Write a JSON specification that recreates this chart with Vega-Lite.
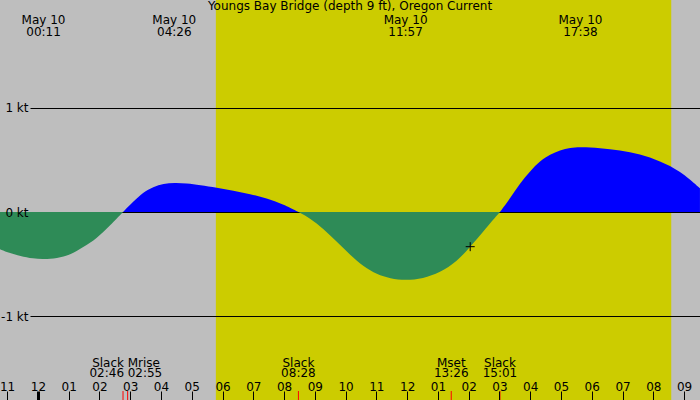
{
  "$schema": "https://vega.github.io/schema/vega-lite/v6.json",
  "width": 700,
  "height": 400,
  "autosize": "none",
  "padding": 0,
  "background": "#bebebe",
  "title": {"text": "Youngs Bay Bridge (depth 9 ft), Oregon Current", "anchor": "middle", "frame": "group", "orient": "top", "offset": -22, "baseline": "alphabetic", "fontSize": 12, "fontWeight": "normal", "color": "black", "font": "DejaVu Sans"},
  "config": {"view": {"stroke": null}, "font": "DejaVu Sans"},
  "datasets": {
    "daylight": [{"sunrise": 5.7833, "sunset": 20.5833}],
    "levels": [{"kt": 0}],
    "current": [
      {"h": -1.233, "v": -0.357, "seg": 1, "dir": "Ebb"},
      {"h": -0.9, "v": -0.395, "seg": 1, "dir": "Ebb"},
      {"h": -0.5833, "v": -0.421, "seg": 1, "dir": "Ebb"},
      {"h": -0.15, "v": -0.447, "seg": 1, "dir": "Ebb"},
      {"h": 0.1833, "v": -0.453, "seg": 1, "dir": "Ebb"},
      {"h": 0.6167, "v": -0.443, "seg": 1, "dir": "Ebb"},
      {"h": 1.05, "v": -0.411, "seg": 1, "dir": "Ebb"},
      {"h": 1.4667, "v": -0.338, "seg": 1, "dir": "Ebb"},
      {"h": 1.9167, "v": -0.252, "seg": 1, "dir": "Ebb"},
      {"h": 2.35, "v": -0.127, "seg": 1, "dir": "Ebb"},
      {"h": 2.7667, "v": 0, "seg": 1, "dir": "Ebb"},
      {"h": 2.7667, "v": 0, "seg": 2, "dir": "Flood"},
      {"h": 3.1, "v": 0.099, "seg": 2, "dir": "Flood"},
      {"h": 3.4167, "v": 0.188, "seg": 2, "dir": "Flood"},
      {"h": 3.75, "v": 0.242, "seg": 2, "dir": "Flood"},
      {"h": 4.0833, "v": 0.271, "seg": 2, "dir": "Flood"},
      {"h": 4.4333, "v": 0.28, "seg": 2, "dir": "Flood"},
      {"h": 4.8333, "v": 0.275, "seg": 2, "dir": "Flood"},
      {"h": 5.2667, "v": 0.258, "seg": 2, "dir": "Flood"},
      {"h": 5.8167, "v": 0.233, "seg": 2, "dir": "Flood"},
      {"h": 6.35, "v": 0.204, "seg": 2, "dir": "Flood"},
      {"h": 6.9, "v": 0.172, "seg": 2, "dir": "Flood"},
      {"h": 7.4333, "v": 0.131, "seg": 2, "dir": "Flood"},
      {"h": 7.9667, "v": 0.074, "seg": 2, "dir": "Flood"},
      {"h": 8.4667, "v": 0, "seg": 2, "dir": "Flood"},
      {"h": 8.4667, "v": 0, "seg": 3, "dir": "Ebb"},
      {"h": 8.85, "v": -0.061, "seg": 3, "dir": "Ebb"},
      {"h": 9.2667, "v": -0.157, "seg": 3, "dir": "Ebb"},
      {"h": 9.7167, "v": -0.284, "seg": 3, "dir": "Ebb"},
      {"h": 10.15, "v": -0.411, "seg": 3, "dir": "Ebb"},
      {"h": 10.5833, "v": -0.523, "seg": 3, "dir": "Ebb"},
      {"h": 11.0167, "v": -0.597, "seg": 3, "dir": "Ebb"},
      {"h": 11.45, "v": -0.638, "seg": 3, "dir": "Ebb"},
      {"h": 11.95, "v": -0.654, "seg": 3, "dir": "Ebb"},
      {"h": 12.5167, "v": -0.638, "seg": 3, "dir": "Ebb"},
      {"h": 13.0667, "v": -0.581, "seg": 3, "dir": "Ebb"},
      {"h": 13.6167, "v": -0.476, "seg": 3, "dir": "Ebb"},
      {"h": 14.05, "v": -0.332, "seg": 3, "dir": "Ebb"},
      {"h": 14.4667, "v": -0.188, "seg": 3, "dir": "Ebb"},
      {"h": 15.0167, "v": 0, "seg": 3, "dir": "Ebb"},
      {"h": 15.0167, "v": 0, "seg": 4, "dir": "Flood"},
      {"h": 15.35, "v": 0.131, "seg": 4, "dir": "Flood"},
      {"h": 15.6667, "v": 0.275, "seg": 4, "dir": "Flood"},
      {"h": 16.0, "v": 0.392, "seg": 4, "dir": "Flood"},
      {"h": 16.3167, "v": 0.488, "seg": 4, "dir": "Flood"},
      {"h": 16.65, "v": 0.552, "seg": 4, "dir": "Flood"},
      {"h": 16.9667, "v": 0.593, "seg": 4, "dir": "Flood"},
      {"h": 17.3, "v": 0.615, "seg": 4, "dir": "Flood"},
      {"h": 17.6333, "v": 0.622, "seg": 4, "dir": "Flood"},
      {"h": 18.2667, "v": 0.612, "seg": 4, "dir": "Flood"},
      {"h": 18.9167, "v": 0.593, "seg": 4, "dir": "Flood"},
      {"h": 19.5667, "v": 0.555, "seg": 4, "dir": "Flood"},
      {"h": 20.2167, "v": 0.488, "seg": 4, "dir": "Flood"},
      {"h": 20.8667, "v": 0.395, "seg": 4, "dir": "Flood"},
      {"h": 21.5167, "v": 0.227, "seg": 4, "dir": "Flood"}
    ],
    "events": [
      {"h": 2.7667, "ev": "Slack", "time": "02:46"},
      {"h": 2.9167, "ev": "Mrise", "time": "02:55"},
      {"h": 8.4667, "ev": "Slack", "time": "08:28"},
      {"h": 13.4333, "ev": "Mset", "time": "13:26"},
      {"h": 15.0167, "ev": "Slack", "time": "15:01"}
    ],
    "peaks": [
      {"h": 0.1833, "date": "May 10", "time": "00:11"},
      {"h": 4.4333, "date": "May 10", "time": "04:26"},
      {"h": 11.95, "date": "May 10", "time": "11:57"},
      {"h": 17.6333, "date": "May 10", "time": "17:38"}
    ],
    "now": [{"h": 14.05, "v": -0.332}]
  },
  "layer": [
    {
      "data": {"name": "daylight"},
      "mark": {"type": "rect", "color": "#cccc00"},
      "encoding": {
        "x": {
          "field": "sunrise", "type": "quantitative",
          "scale": {"domain": [-1.2317, 21.518], "nice": false, "zero": false},
          "axis": {
            "title": null, "orient": "bottom",
            "values": [-1, 0, 1, 2, 3, 4, 5, 6, 7, 8, 9, 10, 11, 12, 13, 14, 15, 16, 17, 18, 19, 20, 21],
            "tickCount": 40,
            "labelExpr": "format(((datum.value + 23) % 12) + 1, '02d')",
            "domain": false, "grid": false,
            "tickSize": -9, "tickColor": "black",
            "tickWidth": {"condition": {"test": "datum.value === 0", "value": 3}, "value": 1},
            "labelColor": "black", "labelFontSize": 12, "labelFont": "DejaVu Sans",
            "labelBaseline": "alphabetic", "labelPadding": -1,
            "labelFlush": false, "labelOverlap": false, "zindex": 1
          }
        },
        "x2": {"field": "sunset"}
      }
    },
    {
      "data": {"name": "levels"},
      "mark": {"type": "rule", "color": "black", "strokeWidth": 1, "yOffset": 0.5},
      "encoding": {"y": {"field": "kt", "type": "quantitative"}}
    },
    {
      "data": {"name": "current"},
      "mark": {"type": "area", "interpolate": "basis", "clip": true},
      "encoding": {
        "x": {"field": "h", "type": "quantitative"},
        "y": {
          "field": "v", "type": "quantitative", "stack": null,
          "scale": {"domain": [-1.8, 2.03], "nice": false, "zero": false},
          "axis": {
            "title": null, "orient": "left", "offset": -30, "values": [-1, 0, 1],
            "labelExpr": "datum.value + ' kt'",
            "domain": false, "grid": false, "tickSize": -670,
            "tickColor": {"condition": {"test": "datum.value === 0", "value": "transparent"}, "value": "black"},
            "labelColor": "black", "labelFontSize": 12, "labelFont": "DejaVu Sans",
            "labelPadding": 672, "zindex": 1
          }
        },
        "color": {"field": "dir", "type": "nominal", "scale": {"domain": ["Flood", "Ebb"], "range": ["#0000ff", "#2e8b57"]}, "legend": null},
        "detail": {"field": "seg", "type": "nominal"}
      }
    },
    {
      "data": {"name": "events"},
      "mark": {"type": "rule", "color": "#ff0000", "strokeWidth": 1},
      "encoding": {
        "x": {"field": "h", "type": "quantitative"},
        "y": {"datum": -1.8, "type": "quantitative"},
        "y2": {"datum": -1.714}
      }
    },
    {
      "data": {"name": "events"},
      "transform": [{"filter": "datum.time !== '02:46' && datum.ev !== 'Mrise'"}],
      "mark": {"type": "text", "baseline": "alphabetic", "fontSize": 12, "color": "black", "align": "center"},
      "encoding": {
        "x": {"field": "h", "type": "quantitative"},
        "y": {"datum": -1.481, "type": "quantitative"},
        "text": {"field": "ev", "type": "nominal"}
      }
    },
    {
      "data": {"name": "events"},
      "transform": [{"filter": "datum.time !== '02:46' && datum.ev !== 'Mrise'"}],
      "mark": {"type": "text", "baseline": "alphabetic", "fontSize": 12, "color": "black", "align": "center"},
      "encoding": {
        "x": {"field": "h", "type": "quantitative"},
        "y": {"datum": -1.583, "type": "quantitative"},
        "text": {"field": "time", "type": "nominal"}
      }
    },
    {
      "data": {"name": "events"},
      "transform": [{"filter": "datum.time === '02:46'"}],
      "mark": {"type": "text", "baseline": "alphabetic", "fontSize": 12, "color": "black", "align": "right", "dx": 1},
      "encoding": {
        "x": {"field": "h", "type": "quantitative"},
        "y": {"datum": -1.481, "type": "quantitative"},
        "text": {"field": "ev", "type": "nominal"}
      }
    },
    {
      "data": {"name": "events"},
      "transform": [{"filter": "datum.time === '02:46'"}],
      "mark": {"type": "text", "baseline": "alphabetic", "fontSize": 12, "color": "black", "align": "right", "dx": 1},
      "encoding": {
        "x": {"field": "h", "type": "quantitative"},
        "y": {"datum": -1.583, "type": "quantitative"},
        "text": {"field": "time", "type": "nominal"}
      }
    },
    {
      "data": {"name": "events"},
      "transform": [{"filter": "datum.ev === 'Mrise'"}],
      "mark": {"type": "text", "baseline": "alphabetic", "fontSize": 12, "color": "black", "align": "left"},
      "encoding": {
        "x": {"field": "h", "type": "quantitative"},
        "y": {"datum": -1.481, "type": "quantitative"},
        "text": {"field": "ev", "type": "nominal"}
      }
    },
    {
      "data": {"name": "events"},
      "transform": [{"filter": "datum.ev === 'Mrise'"}],
      "mark": {"type": "text", "baseline": "alphabetic", "fontSize": 12, "color": "black", "align": "left"},
      "encoding": {
        "x": {"field": "h", "type": "quantitative"},
        "y": {"datum": -1.583, "type": "quantitative"},
        "text": {"field": "time", "type": "nominal"}
      }
    },
    {
      "data": {"name": "peaks"},
      "mark": {"type": "text", "baseline": "alphabetic", "align": "center", "fontSize": 12, "color": "black"},
      "encoding": {
        "x": {"field": "h", "type": "quantitative"},
        "y": {"datum": 1.80, "type": "quantitative"},
        "text": {"field": "date", "type": "nominal"}
      }
    },
    {
      "data": {"name": "peaks"},
      "mark": {"type": "text", "baseline": "alphabetic", "align": "center", "fontSize": 12, "color": "black"},
      "encoding": {
        "x": {"field": "h", "type": "quantitative"},
        "y": {"datum": 1.685, "type": "quantitative"},
        "text": {"field": "time", "type": "nominal"}
      }
    },
    {
      "data": {"name": "now"},
      "mark": {"type": "point", "shape": "M-1,0L1,0M0,-1L0,1", "size": 81, "filled": false, "stroke": "black", "strokeWidth": 1, "opacity": 1},
      "encoding": {
        "x": {"field": "h", "type": "quantitative"},
        "y": {"field": "v", "type": "quantitative"}
      }
    }
  ]
}
